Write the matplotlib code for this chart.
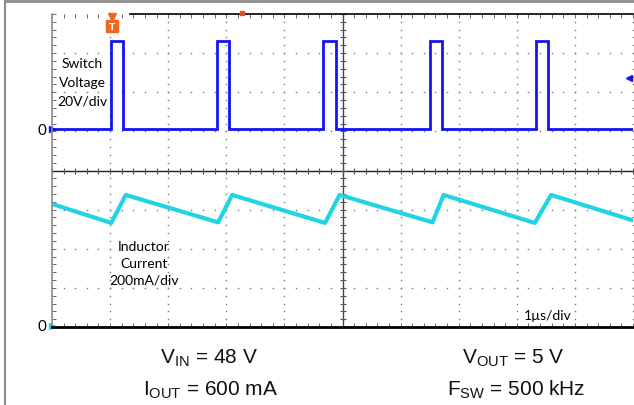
import numpy as np
import matplotlib
matplotlib.use("Agg")
import matplotlib.pyplot as plt
from matplotlib.lines import Line2D

plt.rcParams['mathtext.fontset'] = 'custom'
plt.rcParams['mathtext.rm'] = 'Liberation Sans'
plt.rcParams['mathtext.it'] = 'Liberation Sans'

# scope settings
t_per_div = 1.0        # us/div
v_per_div = 20.0       # V/div
i_per_div = 200.0      # mA/div
ch1_offset = 5.05      # divisions from bottom (switch voltage zero)
ch2_offset = 0.0       # divisions from bottom (inductor current zero)

# switch node: rising / falling edge times (us) and high level (V)
sw_rise = [1.02, 2.84, 4.67, 6.50, 8.33]
sw_fall = [1.22, 3.05, 4.88, 6.71, 8.53]
sw_high = 45.0

# inductor current breakpoints (us, mA)
il_t = [0.0, 1.02, 1.27, 2.86, 3.10, 4.70, 4.95, 6.55, 6.74, 8.31, 8.59, 10.0]
il_ma = [629, 532, 675, 535, 675, 532, 675, 535, 675, 532, 675, 545]

W, H = 634, 406
fig = plt.figure(figsize=(W / 100, H / 100), dpi=100)

# axes box in pixels
x0, x1, ytop, ybot = 52, 633, 15, 328
ax = fig.add_axes([x0 / W, 1 - ybot / H, (x1 - x0) / W, (ybot - ytop) / H])
ax.set_xlim(0, 10)
ax.set_ylim(0, 8)


def px(x, y):
    return x / W, 1 - y / H


# outer frame
fig.add_artist(Line2D([5 / W, 5 / W], [0, 1], color='#8c8c8c', lw=1.5))
fig.add_artist(Line2D([5 / W, 1], [1 - 2 / H, 1 - 2 / H], color='#8c8c8c', lw=2))

# dotted graticule
minor = np.arange(0, 10.01, 0.2)
minor_y = np.arange(0, 8.01, 0.2)
for k in [1, 2, 3, 4, 6, 7, 8, 9, 10]:
    ax.plot(np.full_like(minor_y, k), minor_y, ls='none', marker='s', ms=1.0, color='#777777', mew=0)
for k in [1, 2, 3, 5, 6, 7]:
    ax.plot(minor, np.full_like(minor, k), ls='none', marker='s', ms=1.0, color='#777777', mew=0)

# center crosshair with minor ticks
ax.axvline(5, color='#444444', lw=1.0)
ax.axhline(4, color='#222222', lw=1.0)
ax.plot(np.full_like(minor_y, 5), minor_y, ls='none', marker='_', ms=4, color='#555555', mew=0.8)
ax.plot(minor, np.full_like(minor, 4), ls='none', marker='|', ms=5, color='#555555', mew=0.8)

# edges
for s in ['right', 'top']:
    ax.spines[s].set_visible(False)
ax.spines['left'].set_color('#8a8a8a')
ax.spines['left'].set_linewidth(1.2)
ax.spines['bottom'].set_color('black')
ax.spines['bottom'].set_linewidth(2.0)
ax.plot([1.35, 10], [8, 8], color='black', lw=1.2, clip_on=False)
ax.set_xticks(minor)
ax.set_yticks(minor_y)
ax.tick_params(axis='x', direction='in', length=3, width=0.7, color='#666666', top=True, labelbottom=False)
ax.tick_params(axis='y', direction='in', length=3, width=0.7, color='#666666', labelleft=False)

# switch voltage trace
t_sw = [0.0]
v_sw = [0.0]
for r, f in zip(sw_rise, sw_fall):
    t_sw += [r, r, f, f]
    v_sw += [0.0, sw_high, sw_high, 0.0]
t_sw.append(10.0)
v_sw.append(0.0)
ax.plot(np.array(t_sw) / t_per_div, np.array(v_sw) / v_per_div + ch1_offset,
        color='#1414f0', lw=2.0, solid_joinstyle='miter')

# inductor current trace
ax.plot(np.array(il_t) / t_per_div, np.array(il_ma) / i_per_div + ch2_offset,
        color='#22d3e3', lw=3.0)

# channel zero markers
fig.text(*px(46, 131), '0', fontsize=11, ha='right', va='center', family='Lato')
fig.text(*px(46, 327), '0', fontsize=11, ha='right', va='center', family='Lato')
ax.plot([0], [ch1_offset], marker='>', ms=4, color='#1414f0', clip_on=False)
ax.plot([0], [ch2_offset + 0.03], marker='>', ms=4, color='#22d3e3', clip_on=False)

# trigger markers
ax.plot([(112 - x0) / 58.1], [(ybot - 18) / 39.125], marker='v', ms=6, color='#f26522', clip_on=False)
ax.plot([(112 - x0) / 58.1], [(ybot - 27) / 39.125], marker='s', ms=8, color='#f26522', clip_on=False)
fig.text(*px(112, 27), 'T', fontsize=6.5, color='white', ha='center', va='center', weight='bold')
ax.plot([(242 - x0) / 58.1], [8.02], marker='s', ms=3, color='#e0531a', clip_on=False)
ax.plot([(629 - x0) / 58.1], [(ybot - 79) / 39.125], marker='<', ms=5, color='#1414f0', clip_on=False)

# annotations
lab = dict(fontsize=10, ha='center', va='center', family='Lato', color='black')
fig.text(*px(82, 83), 'Switch\nVoltage\n20V/div', linespacing=1.65, **lab)
fig.text(*px(144, 264), 'Inductor\nCurrent\n200mA/div', linespacing=1.5, **lab)
fig.text(*px(548, 316), '1µs/div', **lab)

bot = dict(fontsize=15, ha='center', va='center', family='Liberation Sans', color='#111111')
fig.text(*px(209, 358), r'V$_{\mathrm{IN}}$ = 48 V', **bot)
fig.text(*px(211, 390), r'I$_{\mathrm{OUT}}$ = 600 mA', **bot)
fig.text(*px(513, 358), r'V$_{\mathrm{OUT}}$ = 5 V', **bot)
fig.text(*px(516, 390), r'F$_{\mathrm{SW}}$ = 500 kHz', **bot)

fig.savefig('out.png', dpi=100)
